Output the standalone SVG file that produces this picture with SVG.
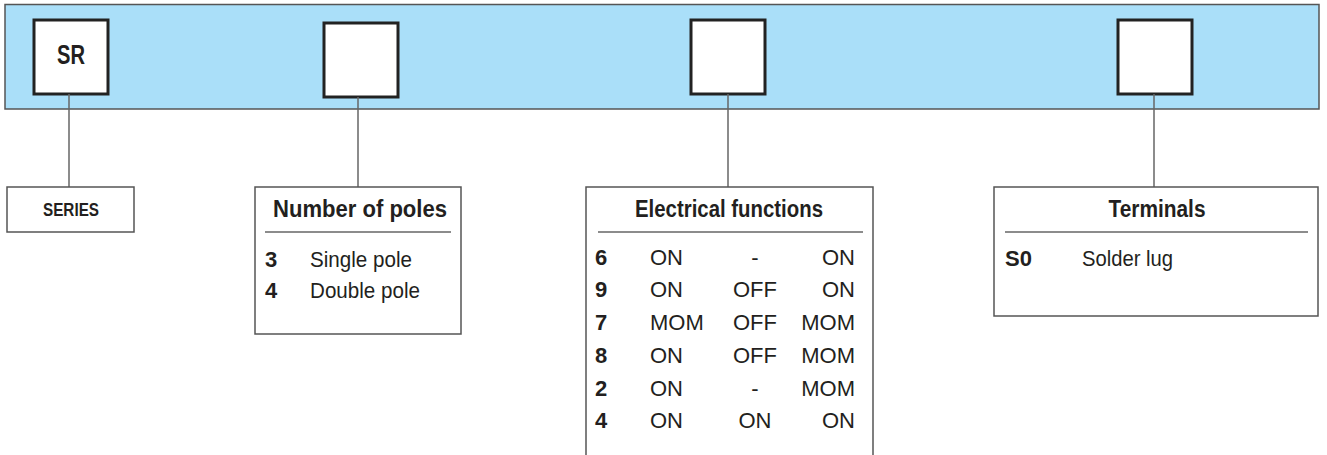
<svg xmlns="http://www.w3.org/2000/svg" width="1327" height="455" viewBox="0 0 1327 455">
<style>
.banner{fill:#aadff9;stroke:#555;stroke-width:1.5}
.code{fill:#fff;stroke:#222;stroke-width:3}
.box{fill:#fff;stroke:#555;stroke-width:1.5}
.rule{stroke:#666;stroke-width:1.5}
.conn{stroke:#666;stroke-width:1.5;fill:none}
text{font-family:"Liberation Sans",Arial,sans-serif;fill:#231f20}
.t{font-size:23px;font-weight:bold}
.b{font-size:22px;font-weight:bold}
.r{font-size:22px}
</style>
<rect class="banner" x="5" y="4.5" width="1314" height="104.5"/>
<g id="code-sr">
<rect class="code" x="34" y="20" width="74" height="74"/>
<text class="b" x="71" y="64" text-anchor="middle" textLength="28" lengthAdjust="spacingAndGlyphs" style="font-size:27px">SR</text>
</g>
<g id="code-poles"><rect class="code" x="324" y="23" width="74" height="74"/></g>
<g id="code-functions"><rect class="code" x="691" y="20" width="74" height="74"/></g>
<g id="code-terminals"><rect class="code" x="1118" y="20" width="74" height="74"/></g>
<g id="connectors">
<line class="conn" x1="69" y1="94" x2="69" y2="187"/>
<line class="conn" x1="358" y1="97" x2="358" y2="187"/>
<line class="conn" x1="728" y1="94" x2="728" y2="187"/>
<line class="conn" x1="1154" y1="94" x2="1154" y2="187"/>
</g>
<g id="series">
<rect class="box" x="7" y="187" width="127" height="45"/>
<text class="b" x="71" y="216" text-anchor="middle" textLength="56" lengthAdjust="spacingAndGlyphs" style="font-size:18px">SERIES</text>
</g>
<g id="poles">
<rect class="box" x="255" y="187" width="206" height="147"/>
<text class="t" x="360" y="217" text-anchor="middle" textLength="174" lengthAdjust="spacingAndGlyphs">Number of poles</text>
<line class="rule" x1="265" y1="232" x2="451" y2="232"/>
<text class="b" x="265" y="267">3</text><text class="r" x="310" y="267" textLength="102" lengthAdjust="spacingAndGlyphs">Single pole</text>
<text class="b" x="265" y="298">4</text><text class="r" x="310" y="298" textLength="110" lengthAdjust="spacingAndGlyphs">Double pole</text>
</g>
<g id="functions">
<path class="box" d="M586 460V187H873V460"/>
<text class="t" x="729" y="217" text-anchor="middle" textLength="188" lengthAdjust="spacingAndGlyphs">Electrical functions</text>
<line class="rule" x1="598" y1="232" x2="863" y2="232"/>
<text class="b" x="595" y="265">6</text><text class="r" x="650" y="265">ON</text><text class="r" x="755" y="265" text-anchor="middle">-</text><text class="r" x="855" y="265" text-anchor="end">ON</text>
<text class="b" x="595" y="297">9</text><text class="r" x="650" y="297">ON</text><text class="r" x="755" y="297" text-anchor="middle">OFF</text><text class="r" x="855" y="297" text-anchor="end">ON</text>
<text class="b" x="595" y="330">7</text><text class="r" x="650" y="330">MOM</text><text class="r" x="755" y="330" text-anchor="middle">OFF</text><text class="r" x="855" y="330" text-anchor="end">MOM</text>
<text class="b" x="595" y="363">8</text><text class="r" x="650" y="363">ON</text><text class="r" x="755" y="363" text-anchor="middle">OFF</text><text class="r" x="855" y="363" text-anchor="end">MOM</text>
<text class="b" x="595" y="396">2</text><text class="r" x="650" y="396">ON</text><text class="r" x="755" y="396" text-anchor="middle">-</text><text class="r" x="855" y="396" text-anchor="end">MOM</text>
<text class="b" x="595" y="428">4</text><text class="r" x="650" y="428">ON</text><text class="r" x="755" y="428" text-anchor="middle">ON</text><text class="r" x="855" y="428" text-anchor="end">ON</text>
</g>
<g id="terminals">
<rect class="box" x="994" y="187" width="324" height="129"/>
<text class="t" x="1157" y="217" text-anchor="middle" textLength="97" lengthAdjust="spacingAndGlyphs">Terminals</text>
<line class="rule" x1="1005" y1="232" x2="1308" y2="232"/>
<text class="b" x="1005" y="266">S0</text><text class="r" x="1082" y="266" textLength="91" lengthAdjust="spacingAndGlyphs">Solder lug</text>
</g>
</svg>
